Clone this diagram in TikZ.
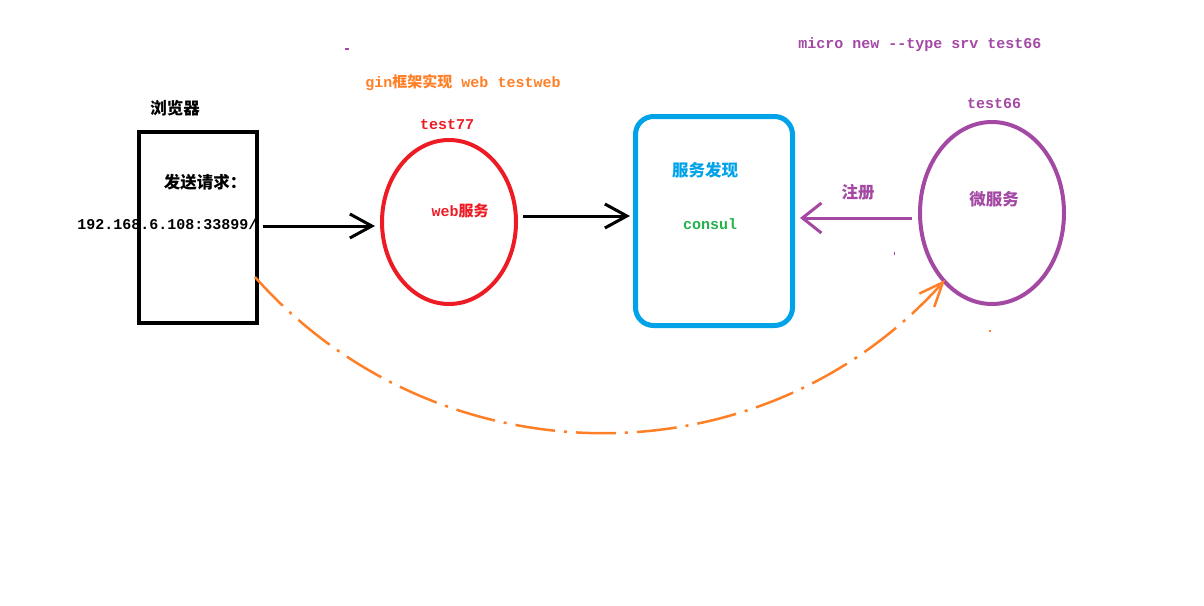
\documentclass[tikz,border=0pt]{standalone}
\usepackage{fontspec}
\setmonofont{Liberation Mono}
\newfontfamily\cjk{Noto Sans CJK SC}
\usetikzlibrary{shapes.geometric,arrows.meta}
\definecolor{cred}{HTML}{ED1C24}
\definecolor{cblue}{HTML}{00A2E8}
\definecolor{cpurple}{HTML}{A349A4}
\definecolor{corange}{HTML}{FF7F27}
\definecolor{cgreen}{HTML}{22B14C}
\newcommand\zh[1]{{\cjk\bfseries #1}}
\tikzset{
  lat/.style={font=\ttfamily\bfseries\fontsize{15}{15}\selectfont, inner sep=0pt},
  han/.style={font=\cjk\bfseries\fontsize{16.5}{16.5}\selectfont, inner sep=0pt},
  arr/.style={line width=3pt, -{Straight Barb[length=22pt,width=24pt,line width=3pt]}},
}
\begin{document}
\begin{tikzpicture}[x=1pt,y=-1pt]
\useasboundingbox (0,0) rectangle (1204,605);
% shapes
\node[draw=black, line width=4pt, minimum width=118pt, minimum height=191pt, inner sep=0pt] (browser) at (198,227.5) {};
\node[draw=cred, ellipse, line width=4pt, minimum width=134pt, minimum height=164pt, inner sep=0pt] (web) at (449,222) {};
\node[draw=cblue, line width=5pt, rounded corners=18pt, minimum width=157pt, minimum height=209pt, inner sep=0pt] (disc) at (714,221) {};
\node[draw=cpurple, ellipse, line width=4pt, minimum width=144pt, minimum height=182pt, inner sep=0pt] (micro) at (992,213) {};
% texts
\node[han] (tbrowser) at (175,108) {浏览器};
\node[han] (tsend) at (205,182) {发送请求：};
\node[lat] (tip) at (167.5,224) {192.168.6.108:33899/};
\node[lat, text=corange] (tgin) at (463,83) {gin\zh{框架实现} web testweb};
\node[lat, text=cred] (t77) at (447,125) {test77};
\node[lat, text=cred] (tweb) at (460,211) {web\zh{服务}};
\node[han, text=cblue] (tdisc) at (705,170) {服务发现};
\node[lat, text=cgreen] (tconsul) at (710,224) {consul};
\node[han, text=cpurple] (treg) at (858,192) {注册};
\node[han, text=cpurple] (tmicro) at (994,199) {微服务};
\node[lat, text=cpurple] (t66) at (994,104) {test66};
\node[lat, text=cpurple] (tcmd) at (920,45) {micro new --type srv test66};
% connectors
\draw[arr] ([shift={(4,-1.5)}]browser.east) -- ([shift={(-5,4)}]web.west);
\draw[arr] ([shift={(5,-6)}]web.east) -- ([shift={(-3,-5)}]disc.west);
\draw[arr, cpurple, -{Straight Barb[length=19pt,width=30pt,line width=3pt]}] ([shift={(-6,5)}]micro.west) -- ([shift={(5,-3)}]disc.east);
\coordinate (cs) at (255,277);
\coordinate (ce) at (945,280);
\draw[corange, line width=2.5pt, dash pattern=on 40pt off 9pt on 3pt off 9pt,
  -{Straight Barb[length=24pt,width=20pt,line width=2.5pt]}]
  (cs) .. controls (437.8,482.7) and (760.4,485.7) .. (ce);
% small stray marks
\draw[cpurple, line width=1.5pt] (345,49) -- (349,49);
\draw[cpurple, line width=1pt] (894,252) -- (894,255);
\draw[corange, line width=1.5pt] (989,331) -- (991,331);
\end{tikzpicture}
\end{document}
